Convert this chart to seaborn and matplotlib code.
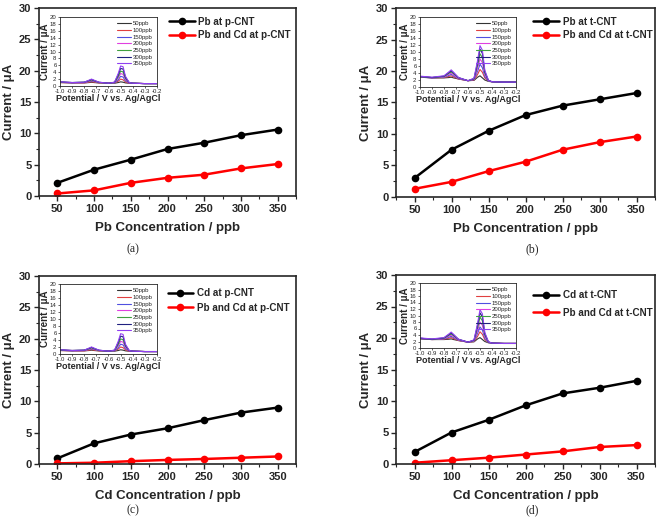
import numpy as np
import pandas as pd
import matplotlib
matplotlib.use("Agg")
import matplotlib.pyplot as plt
import seaborn as sns
from matplotlib.ticker import MultipleLocator

# main data
concentration = [50, 100, 150, 200, 250, 300, 350]

pb_pcnt = [2.1, 4.2, 5.8, 7.5, 8.5, 9.7, 10.6]
pb_mix_pcnt = [0.4, 0.9, 2.1, 2.9, 3.4, 4.4, 5.1]
pb_tcnt = [3.0, 7.5, 10.5, 13.0, 14.5, 15.5, 16.5]
pb_mix_tcnt = [1.3, 2.4, 4.1, 5.6, 7.5, 8.7, 9.6]
cd_pcnt = [0.9, 3.3, 4.7, 5.7, 7.0, 8.2, 9.0]
cd_mix_pcnt = [0.1, 0.2, 0.45, 0.65, 0.8, 1.0, 1.2]
cd_tcnt = [1.9, 5.0, 7.0, 9.3, 11.2, 12.1, 13.2]
cd_mix_tcnt = [0.2, 0.6, 1.0, 1.5, 2.0, 2.7, 3.0]

# inset voltammograms
potential = [-1.0, -0.9, -0.8, -0.76, -0.74, -0.72, -0.68, -0.6, -0.55,
             -0.52, -0.5, -0.48, -0.46, -0.43, -0.4, -0.3, -0.2]
ppb_labels = ["50ppb", "100ppb", "150ppb", "200ppb", "250ppb", "300ppb", "350ppb"]
ppb_colors = ["#333333", "#e04040", "#5050e0", "#e040e0", "#40a040", "#202080", "#9040f0"]

volt_pcnt = [
    [1.0, 0.9, 0.9, 1.0, 1.1, 1.0, 0.9, 0.8, 0.8, 1.0, 1.2, 1.1, 0.9, 0.8, 0.8, 0.7, 0.7],
    [1.0, 0.9, 0.9, 1.1, 1.3, 1.1, 0.9, 0.8, 0.9, 1.4, 2.0, 1.8, 1.2, 0.8, 0.8, 0.7, 0.7],
    [1.1, 0.9, 1.0, 1.3, 1.5, 1.3, 1.0, 0.8, 0.9, 1.8, 2.8, 2.6, 1.5, 0.9, 0.8, 0.7, 0.7],
    [1.1, 1.0, 1.0, 1.4, 1.7, 1.4, 1.0, 0.8, 1.0, 2.3, 3.6, 3.4, 1.9, 0.9, 0.8, 0.7, 0.7],
    [1.1, 1.0, 1.1, 1.5, 1.8, 1.5, 1.0, 0.8, 1.0, 2.7, 4.3, 4.1, 2.2, 1.0, 0.8, 0.7, 0.7],
    [1.2, 1.0, 1.1, 1.6, 1.9, 1.6, 1.1, 0.8, 1.1, 3.2, 5.1, 4.9, 2.5, 1.0, 0.8, 0.7, 0.7],
    [1.2, 1.0, 1.1, 1.7, 2.0, 1.7, 1.1, 0.8, 1.1, 3.6, 5.8, 5.6, 2.8, 1.0, 0.8, 0.7, 0.7],
]
volt_tcnt = [
    [2.8, 2.6, 2.6, 2.7, 2.8, 2.6, 2.3, 1.8, 1.9, 2.8, 3.2, 2.6, 2.0, 1.6, 1.5, 1.4, 1.4],
    [2.9, 2.6, 2.7, 3.0, 3.2, 2.9, 2.3, 1.8, 2.0, 3.6, 5.0, 4.2, 2.6, 1.7, 1.5, 1.4, 1.4],
    [2.9, 2.6, 2.8, 3.3, 3.6, 3.2, 2.4, 1.8, 2.1, 4.5, 6.5, 5.5, 3.0, 1.7, 1.5, 1.4, 1.4],
    [3.0, 2.7, 2.9, 3.6, 4.0, 3.5, 2.5, 1.8, 2.2, 5.3, 8.0, 7.0, 3.5, 1.8, 1.5, 1.4, 1.4],
    [3.0, 2.7, 3.0, 3.9, 4.3, 3.8, 2.6, 1.8, 2.3, 6.2, 9.5, 8.4, 4.0, 1.8, 1.5, 1.4, 1.4],
    [3.0, 2.7, 3.1, 4.1, 4.6, 4.0, 2.7, 1.8, 2.4, 7.0, 10.8, 9.6, 4.4, 1.9, 1.5, 1.4, 1.4],
    [3.1, 2.8, 3.2, 4.3, 4.9, 4.2, 2.7, 1.8, 2.5, 7.6, 11.8, 10.5, 4.8, 1.9, 1.5, 1.4, 1.4],
]

W, H = 660, 524

sns.set_theme(style="ticks")
plt.rcParams['font.family'] = ['Liberation Sans', 'DejaVu Sans']

fig = plt.figure(figsize=(W / 100, H / 100), dpi=100)


def px_axes(left, right, top, bottom):
    return fig.add_axes([left / W, 1 - bottom / H, (right - left) / W, (bottom - top) / H])


def draw_main(rect, black, red, black_label, red_label, xlabel, legend_anchor, spacing):
    ax = px_axes(*rect)
    df = pd.DataFrame({"conc": concentration * 2,
                       "current": black + red,
                       "series": [black_label] * 7 + [red_label] * 7})
    sns.lineplot(data=df, x="conc", y="current", hue="series",
                 palette=["black", "red"], marker="o", markersize=5.5,
                 markeredgewidth=0, linewidth=1.8, ax=ax)
    ax.set_xlim(25, 375)
    ax.set_ylim(0, 30)
    ax.xaxis.set_major_locator(MultipleLocator(50))
    ax.xaxis.set_minor_locator(MultipleLocator(25))
    ax.yaxis.set_major_locator(MultipleLocator(5))
    ax.yaxis.set_minor_locator(MultipleLocator(2.5))
    ax.tick_params(which="major", length=3.5, width=1, labelsize=8, pad=2)
    ax.tick_params(which="minor", length=2, width=0.8)
    for lab in ax.get_xticklabels() + ax.get_yticklabels():
        lab.set_fontweight("bold")
    for s in ax.spines.values():
        s.set_linewidth(1.2)
        s.set_visible(True)
    ax.set_xlabel(xlabel, fontsize=9.5, fontweight="bold", labelpad=6)
    ax.set_ylabel("Current / \u03bcA", fontsize=9.5, fontweight="bold")
    # y label sits about 24 px left of the axis, as in the reference
    ax.yaxis.set_label_coords(-24 / (rect[1] - rect[0]), 0.5)
    leg = ax.legend(loc="upper left", bbox_to_anchor=legend_anchor, frameon=False,
                    fontsize=7.1, handlelength=2.6, borderaxespad=0, labelspacing=spacing,
                    handletextpad=0.4)
    for t in leg.get_texts():
        t.set_fontweight("bold")
    return ax


def draw_inset(rect, curves):
    ax = px_axes(*rect)
    rows = []
    for lab, vals in zip(ppb_labels, curves):
        for p, v in zip(potential, vals):
            rows.append((p, v, lab))
    df = pd.DataFrame(rows, columns=["potential", "current", "ppb"])
    sns.lineplot(data=df, x="potential", y="current", hue="ppb",
                 palette=ppb_colors, linewidth=0.8, ax=ax, sort=False)
    ax.set_xlim(-1.0, -0.2)
    ax.set_ylim(0, 20)
    ax.xaxis.set_major_locator(MultipleLocator(0.1))
    ax.yaxis.set_major_locator(MultipleLocator(2))
    ax.xaxis.set_major_formatter(plt.FuncFormatter(lambda v, p: f"{v:.1f}"))
    ax.tick_params(length=1.5, width=0.5, labelsize=4.3, pad=1)
    for s in ax.spines.values():
        s.set_linewidth(0.6)
        s.set_visible(True)
    ax.set_xlabel("Potential / V vs. Ag/AgCl", fontsize=6.5, fontweight="bold", labelpad=0)
    ax.set_ylabel("Current / \u03bcA", fontsize=7, fontweight="bold", labelpad=0)
    ax.legend(loc="upper right", frameon=False, fontsize=4.3, handlelength=2.2,
              labelspacing=0.25, borderaxespad=0.3, handletextpad=0.4)
    return ax


draw_main((39, 296, 8, 196), pb_pcnt, pb_mix_pcnt, "Pb at p-CNT", "Pb and Cd at p-CNT",
          "Pb Concentration / ppb", (0.49, 0.975), 0.35)
draw_main((396, 655, 8, 197), pb_tcnt, pb_mix_tcnt, "Pb at t-CNT", "Pb and Cd at t-CNT",
          "Pb Concentration / ppb", (0.515, 0.975), 0.35)
draw_main((39, 296, 276, 464), cd_pcnt, cd_mix_pcnt, "Cd at p-CNT", "Pb and Cd at p-CNT",
          "Cd Concentration / ppb", (0.485, 0.955), 0.45)
draw_main((396, 655, 275, 464), cd_tcnt, cd_mix_tcnt, "Cd at t-CNT", "Pb and Cd at t-CNT",
          "Cd Concentration / ppb", (0.515, 0.94), 0.75)

draw_inset((60, 157, 17, 86), volt_pcnt)
draw_inset((420, 516, 17, 87), volt_tcnt)
draw_inset((60, 157, 284, 354), volt_pcnt)
draw_inset((420, 516, 283, 348), volt_tcnt)

for lab, x, y in [("(a)", 133, 249), ("(b)", 532, 249), ("(c)", 133, 510), ("(d)", 532, 510)]:
    fig.text(x / W, 1 - y / H, lab, fontsize=8.5, family="Liberation Serif",
             ha="center", va="center")

fig.savefig("out.png", dpi=100)
